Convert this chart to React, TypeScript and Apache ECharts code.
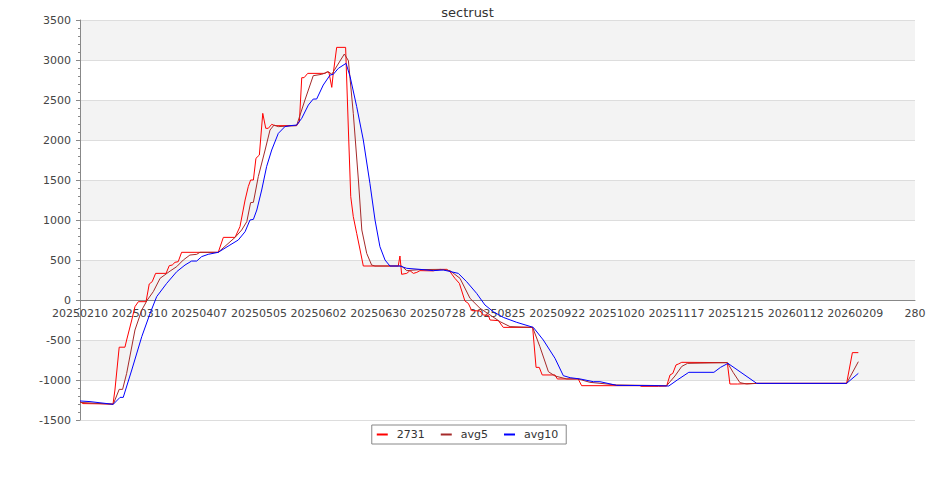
import React, { useEffect, useRef } from "react";
import * as echarts from "echarts";

const chartTitle = "sectrust";
const seriesNames = ["2731", "avg5", "avg10"];
const seriesColors = ["#ff0000", "#a52a2a", "#0000ff"];
const xTickLabels = [
  "20250210", "20250310", "20250407", "20250505", "20250602", "20250630", "20250728",
  "20250825", "20250922", "20251020", "20251117", "20251215", "20260112", "20260209", "280",
];
const xTickStep = 28;
const yMin = -1500;
const yMax = 3500;
const yStep = 500;

// [day offset from 20250210, value]
const series2731: [number, number][] = [
  [0, -1270], [1.4, -1295], [15.5, -1300], [16.4, -1125], [18.4, -590], [21.1, -590], [21.9, -500],
  [24.3, -250], [25.8, -83], [27.4, -21], [31.0, -21], [32.5, 200], [33.9, 229], [35.5, 333],
  [40.4, 333], [41.9, 429], [43.3, 437], [44.6, 471], [46.1, 479], [47.7, 596], [64.9, 596],
  [67.3, 783], [72.8, 783], [75.1, 917], [77.5, 1250], [79.0, 1417], [80.1, 1500], [81.4, 1500],
  [82.6, 1771], [84.2, 1812], [85.8, 2333], [87.2, 2146], [88.4, 2146], [90.0, 2196], [91.5, 2179],
  [101.7, 2180], [103.0, 2229], [104.1, 2779], [105.2, 2779], [106.9, 2833], [115.0, 2833],
  [116.1, 2854], [116.9, 2840], [118.2, 2658], [118.9, 2833], [120.5, 3158], [124.7, 3158],
  [126.0, 2125], [127.1, 1292], [128.3, 1042], [129.9, 833], [131.5, 625], [133.0, 425],
  [149.4, 425], [150.2, 550], [151.0, 321], [153.4, 333], [154.9, 367], [156.5, 333], [158.1, 345],
  [159.6, 367], [165.7, 364], [169.0, 383], [172.2, 383], [173.7, 354], [176.0, 271], [178.1, 208],
  [180.7, -12], [182.3, -42], [183.9, -133], [187.8, -137], [189.3, -187], [191.7, -192],
  [192.5, -250], [196.4, -258], [198.7, -342], [212.5, -342], [214.1, -842], [215.6, -842],
  [217.0, -937], [223.0, -937], [224.1, -987], [233.9, -987], [235.5, -1071], [262.9, -1071],
  [263.4, -1079], [271.5, -1079], [275.4, -1075], [277.0, -937], [278.3, -917], [279.8, -812],
  [280.9, -800], [282.5, -779], [303.9, -783], [305.1, -1050], [308.6, -1050], [317.7, -1042],
  [359.9, -1042], [362.6, -658], [365.4, -658],
];

const seriesAvg5: [number, number][] = [
  [0, -1280], [15.6, -1304], [18.4, -1117], [20.0, -1117], [21.9, -917], [25.8, -375], [29.0, -125],
  [31.6, 0], [34.4, 104], [37.6, 271], [42.3, 362], [45.4, 417], [48.5, 500], [51.6, 562],
  [54.8, 571], [56.3, 596], [64.9, 596], [72.8, 783], [75.9, 875], [78.3, 979], [80.1, 1217],
  [81.4, 1221], [83.7, 1542], [86.9, 1875], [89.2, 2125], [91.1, 2187], [93.1, 2167], [101.7, 2180],
  [105.6, 2500], [109.5, 2804], [113.5, 2821], [116.6, 2854], [118.2, 2821], [124.1, 3075],
  [126.0, 2992], [128.3, 2333], [130.7, 1500], [132.3, 875], [134.6, 583], [136.9, 437],
  [138.5, 425], [149.4, 425], [151.0, 425], [153.4, 367], [159.6, 380], [169.0, 383], [173.7, 367],
  [178.4, 271], [183.1, 21], [187.8, -104], [192.5, -187], [197.2, -271], [201.9, -333],
  [212.5, -342], [215.9, -583], [219.9, -896], [223.0, -950], [228.5, -987], [233.9, -987],
  [239.4, -1029], [252.0, -1062], [275.4, -1071], [279.3, -950], [282.5, -830], [285.2, -792],
  [303.9, -783], [306.7, -908], [309.8, -1033], [313.0, -1050], [317.7, -1042], [359.9, -1042],
  [365.4, -771],
];

const seriesAvg10: [number, number][] = [
  [0, -1262], [4.7, -1270], [15.6, -1304], [18.8, -1217], [20.3, -1217], [24.3, -875], [29.0, -458],
  [32.9, -167], [36.0, 42], [40.7, 208], [45.4, 354], [49.3, 437], [52.4, 487], [54.8, 487],
  [57.1, 542], [60.2, 571], [64.9, 596], [70.4, 687], [74.3, 750], [77.5, 854], [79.8, 1000],
  [81.4, 1008], [83.0, 1125], [85.3, 1375], [87.6, 1667], [90.0, 1875], [93.1, 2083], [96.2, 2167],
  [98.6, 2179], [101.7, 2187], [104.1, 2271], [107.2, 2437], [109.5, 2512], [111.1, 2512],
  [114.2, 2687], [117.4, 2812], [118.9, 2821], [121.3, 2896], [124.9, 2958], [126.8, 2792],
  [129.9, 2417], [133.0, 2000], [136.1, 1458], [138.5, 1000], [140.8, 667], [143.2, 500],
  [145.5, 425], [150.2, 425], [153.4, 396], [159.6, 383], [165.9, 367], [170.6, 375], [177.6, 333],
  [181.5, 229], [186.2, 83], [190.1, -62], [194.0, -146], [198.7, -217], [205.0, -279],
  [212.8, -342], [217.5, -500], [223.0, -729], [226.9, -946], [230.1, -971], [234.8, -987],
  [241.0, -1021], [244.1, -1021], [252.0, -1067], [270.9, -1071], [276.4, -1075], [280.4, -1000],
  [285.8, -904], [297.6, -904], [300.7, -842], [304.2, -792], [317.7, -1042], [359.9, -1042],
  [365.4, -917],
];

const FONT = "DejaVu Sans";

export default function App() {
  const ref = useRef<HTMLDivElement>(null);

  useEffect(() => {
    if (!ref.current) return;
    const chart = echarts.init(ref.current, undefined, { renderer: "svg" });
    const allData = [series2731, seriesAvg5, seriesAvg10];
    const plotHeight = 400;
    const zeroOffset = (plotHeight * (0 - yMin)) / (yMax - yMin);
    chart.setOption({
      animation: false,
      backgroundColor: "#ffffff",
      textStyle: { fontFamily: FONT },
      title: {
        text: chartTitle,
        left: "center",
        top: 1,
        textStyle: { fontFamily: FONT, fontSize: 13, fontWeight: "normal", color: "#333333" },
      },
      legend: {
        data: seriesNames,
        left: "center",
        top: 425,
        icon: "rect",
        itemWidth: 11,
        itemHeight: 2,
        itemGap: 16,
        padding: [4, 8, 4, 5],
        borderColor: "#888888",
        borderWidth: 1,
        formatter: (name: string) => `{p|}${name}`,
        textStyle: {
          fontFamily: FONT,
          fontSize: 11,
          color: "#333333",
          rich: { p: { width: 4 } },
        },
      },
      grid: { left: 80, right: 20, top: 20, bottom: 80, containLabel: false },
      xAxis: {
        type: "value",
        min: 0,
        max: xTickStep * (xTickLabels.length - 1),
        interval: xTickStep,
        offset: -zeroOffset,
        axisLine: { show: true, onZero: false, lineStyle: { color: "#888888", width: 1 } },
        axisTick: { show: false },
        splitLine: { show: false },
        axisLabel: {
          fontFamily: FONT,
          fontSize: 11,
          color: "#444444",
          margin: 8,
          formatter: (v: number) => xTickLabels[Math.round(v / xTickStep)] ?? "",
        },
      },
      yAxis: {
        type: "value",
        min: yMin,
        max: yMax,
        interval: yStep,
        axisLine: { show: true, lineStyle: { color: "#888888", width: 1 } },
        axisTick: { show: true, length: 4, lineStyle: { color: "#888888" } },
        minorTick: { show: true, splitNumber: 5, length: 2, lineStyle: { color: "#888888" } },
        splitLine: { show: true, lineStyle: { color: "#dddddd", width: 1 } },
        splitArea: { show: true, areaStyle: { color: ["#ffffff", "#f3f3f3"] } },
        axisLabel: {
          fontFamily: FONT,
          fontSize: 11,
          color: "#444444",
          margin: 9,
          formatter: (v: number) => String(v),
        },
      },
      series: seriesNames.map((name, i) => ({
        name,
        type: "line",
        data: allData[i],
        showSymbol: false,
        symbol: "none",
        color: seriesColors[i],
        lineStyle: { width: 1, color: seriesColors[i] },
      })),
    });
    return () => chart.dispose();
  }, []);

  return (
    <div
      ref={ref}
      style={{ position: "fixed", left: 0, top: 0, width: 935, height: 500 }}
    />
  );
}
